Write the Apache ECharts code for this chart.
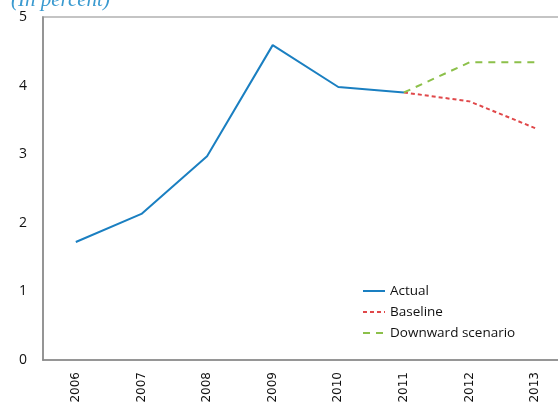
<!DOCTYPE html>
<html>
<head>
<meta charset="utf-8">
<script src="https://cdn.jsdelivr.net/npm/echarts@6/dist/echarts.min.js"></script>
<style>html,body{margin:0;padding:0;background:#fff;}#chart{width:558px;height:402px;}</style>
</head>
<body>
<div id="chart"></div>
<script>
const years = ['2006','2007','2008','2009','2010','2011','2012','2013'];
const actual = [1.72, 2.13, 2.97, 4.59, 3.98, 3.90, null, null];
const baseline = [null, null, null, null, null, 3.90, 3.77, 3.38];
const downward = [null, null, null, null, null, 3.90, 4.34, 4.34];
const yTicks = [0, 1, 2, 3, 4, 5];

const chart = echarts.init(document.getElementById('chart'));
chart.setOption({
  animation: false,
  backgroundColor: '#ffffff',
  title: {
    text: '(In percent)',
    left: 6,
    top: -15,
    textStyle: { fontFamily: 'Liberation Serif', fontStyle: 'italic', fontWeight: 'normal', fontSize: 21, color: '#3a9ad0' }
  },
  grid: {
    left: 43, right: -10, top: 17, bottom: 42, containLabel: false, outerBoundsMode: 'none',
    show: true, borderColor: '#c4c4c4', borderWidth: 2, backgroundColor: 'rgba(0,0,0,0)'
  },
  legend: {
    orient: 'vertical',
    left: 362,
    top: 284,
    padding: 0,
    itemWidth: 22,
    itemHeight: 4,
    itemGap: 7,
    itemStyle: { opacity: 0 },
    textStyle: { fontFamily: 'Open Sans', fontSize: 13.5, color: '#111' },
    data: ['Actual', 'Baseline', 'Downward scenario']
  },
  xAxis: {
    type: 'category',
    data: years,
    boundaryGap: true,
    axisLine: { lineStyle: { color: '#868686', width: 1.5 } },
    axisTick: { show: false },
    axisLabel: { rotate: 90, margin: 12, fontFamily: 'DejaVu Sans', fontSize: 12, color: '#111' }
  },
  yAxis: {
    type: 'value',
    min: yTicks[0],
    max: yTicks[yTicks.length - 1],
    interval: 1,
    axisLine: { show: true, onZero: false, lineStyle: { color: '#868686', width: 1.5 } },
    axisTick: { show: false },
    splitLine: { show: false },
    axisLabel: { margin: 16, fontFamily: 'Open Sans', fontSize: 14, color: '#111' }
  },
  series: [
    {
      name: 'Actual', type: 'line', data: actual, symbol: 'none',
      lineStyle: { color: '#1a7fc1', width: 2 }, itemStyle: { color: '#1a7fc1' }, z: 3
    },
    {
      name: 'Baseline', type: 'line', data: baseline, symbol: 'none',
      lineStyle: { color: '#e0484a', width: 2, type: [4, 3] }, itemStyle: { color: '#e0484a' }
    },
    {
      name: 'Downward scenario', type: 'line', data: downward, symbol: 'none',
      lineStyle: { color: '#8cc04a', width: 2, type: [7, 6] }, itemStyle: { color: '#8cc04a' }
    }
  ]
});
</script>
</body>
</html>
